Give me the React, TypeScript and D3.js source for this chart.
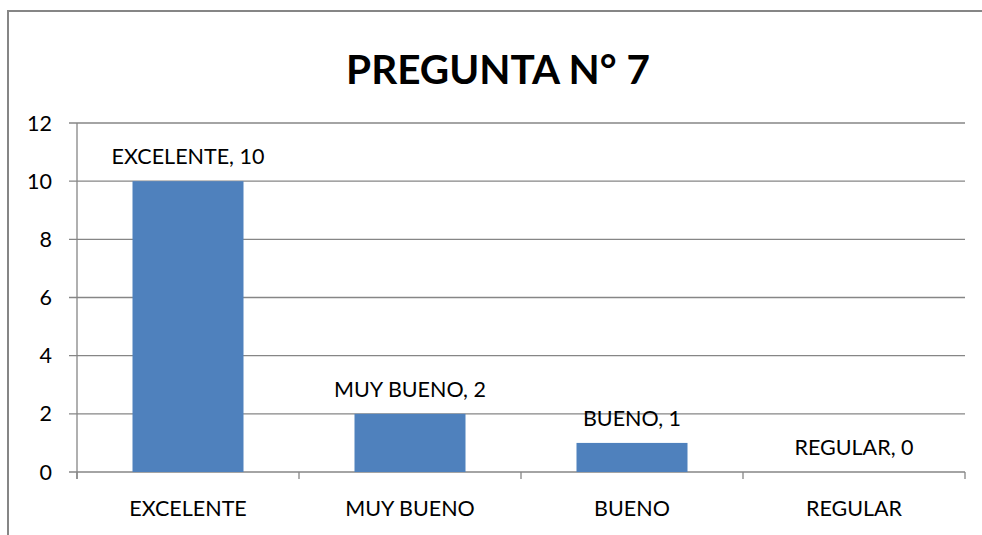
import React, { useEffect, useRef } from 'react';
import * as d3 from 'd3';

const categories = ['EXCELENTE', 'MUY BUENO', 'BUENO', 'REGULAR'];
const values = [10, 2, 1, 0];
const yTicks = [0, 2, 4, 6, 8, 10, 12];
const title = 'PREGUNTA N° 7';

const App = () => {
  const ref = useRef<SVGSVGElement>(null);

  useEffect(() => {
    const width = 982;
    const height = 535;
    const m = { left: 77, right: 965, top: 123, bottom: 472 };
    const font = 'Lato, "Open Sans", sans-serif';
    const grey = '#868686';
    const fs = 21.5;

    const svg = d3.select(ref.current);
    svg.selectAll('*').remove();
    svg.attr('width', width).attr('height', height);

    // chart frame (cut off on right and bottom)
    svg.append('rect')
      .attr('x', 8).attr('y', 11)
      .attr('width', 1010).attr('height', 560)
      .attr('fill', 'white')
      .attr('stroke', grey).attr('stroke-width', 2);

    svg.append('text')
      .attr('x', 498).attr('y', 84)
      .attr('text-anchor', 'middle')
      .attr('font-family', font).attr('font-weight', 'bold')
      .attr('font-size', 40.5)
      .text(title);

    const x = d3.scaleBand().domain(categories).range([m.left, m.right]).paddingInner(0.5).paddingOuter(0.25);
    const xb = d3.scaleBand().domain(categories).range([m.left, m.right]);
    const y = d3.scaleLinear().domain([0, 12]).range([m.bottom, m.top]);

    // gridlines and y ticks
    svg.append('g').selectAll('line').data(yTicks).enter().append('line')
      .attr('x1', m.left - 8).attr('x2', m.right)
      .attr('y1', (d) => y(d)).attr('y2', (d) => y(d))
      .attr('stroke', grey).attr('stroke-width', 1.3);

    svg.append('g').selectAll('text').data(yTicks).enter().append('text')
      .attr('x', 52).attr('y', (d) => y(d) + 7.5)
      .attr('text-anchor', 'end')
      .attr('font-family', font).attr('font-size', fs)
      .text((d) => d);

    // axis line
    svg.append('line')
      .attr('x1', m.left).attr('x2', m.left)
      .attr('y1', m.top).attr('y2', m.bottom + 7)
      .attr('stroke', grey).attr('stroke-width', 1.3);

    // category ticks
    const edges = categories.map((c) => xb(c) as number).concat([m.right]);
    svg.append('g').selectAll('line').data(edges).enter().append('line')
      .attr('x1', (d) => d).attr('x2', (d) => d)
      .attr('y1', m.bottom).attr('y2', m.bottom + 7)
      .attr('stroke', grey).attr('stroke-width', 1.3);

    svg.append('g').selectAll('rect').data(values).enter().append('rect')
      .attr('x', (d, i) => x(categories[i]) as number)
      .attr('width', x.bandwidth())
      .attr('y', (d) => y(d))
      .attr('height', (d) => m.bottom - y(d))
      .attr('fill', '#4F81BD');

    svg.append('g').selectAll('text').data(values).enter().append('text')
      .attr('x', (d, i) => (xb(categories[i]) as number) + xb.bandwidth() / 2)
      .attr('y', (d) => y(d) - 17)
      .attr('text-anchor', 'middle')
      .attr('font-family', font).attr('font-size', fs)
      .text((d, i) => `${categories[i]}, ${d}`);

    svg.append('g').selectAll('text').data(categories).enter().append('text')
      .attr('x', (d) => (xb(d) as number) + xb.bandwidth() / 2)
      .attr('y', 516)
      .attr('text-anchor', 'middle')
      .attr('font-family', font).attr('font-size', fs)
      .text((d) => d);
  }, []);

  return <svg ref={ref} style={{ position: 'absolute', left: 0, top: 0 }}></svg>;
};

export default App;
